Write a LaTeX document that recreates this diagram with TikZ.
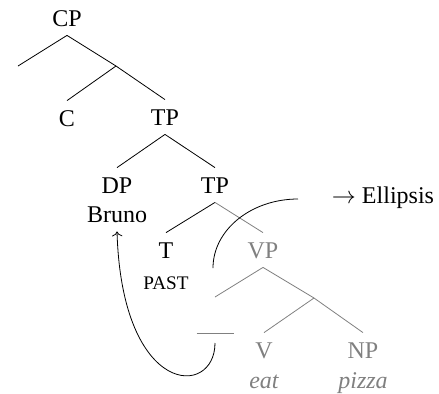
\documentclass[tikz,border=0pt]{standalone}
\usepackage{fontspec}
\setmainfont{Liberation Serif}
\newfontfamily\treefont{Liberation Serif}
\usetikzlibrary{arrows.meta}

\begin{document}
\begin{tikzpicture}[x=0.5pt, y=-0.5pt,
    every node/.style={font=\treefont\fontsize{12}{14}\selectfont},
    lbl/.style={text height=8pt, text depth=0pt, inner xsep=1pt, inner ysep=4.5pt},
    elided/.style={gray}]
  % canvas 439 x 393, one unit = one pixel
  \useasboundingbox (0,0) rectangle (439,393);

  % -- labels of the tree --
  \node[lbl] (CP)  at (67,18)   {CP};
  \node[lbl] (C)   at (67,118)  {C};
  \node[lbl] (TP)  at (165,117) {TP};
  \node[lbl] (DP)  at (117,185) {DP};
  \node[lbl] (TPb) at (215,185) {TP};
  \node[lbl] (T)   at (166,250) {T};
  \node[lbl, elided] (VP) at (263,250) {VP};
  \node[lbl, elided] (V)  at (264,350) {V};
  \node[lbl, elided] (NP) at (363,350) {NP};

  % words under the labels
  \node[lbl] (bruno) at (117,214) {Bruno};
  \node[lbl, font=\treefont\fontsize{9.6}{11}\selectfont] (past) at (166,281) {PAST};
  \node[lbl, elided, font=\treefont\fontsize{12}{14}\selectfont\itshape] (eat)   at (264,380) {eat};
  \node[lbl, elided, font=\treefont\fontsize{12}{14}\selectfont\itshape] (pizza) at (363,380) {pizza};

  % gap left by the moved subject
  \node[inner sep=0pt] (trace) at (215,333) {\textcolor{gray}{\rule{18.5pt}{0.5pt}}};

  % empty branch points
  \coordinate (specC) at (18,66);
  \coordinate (Cbar)  at (116,66);
  \coordinate (specV) at (215,297);
  \coordinate (Vbar)  at (314,298);

  % -- branches --
  \draw (CP.south) -- (specC);
  \draw (CP.south) -- (Cbar);
  \draw (Cbar) -- (C.north);
  \draw (Cbar) -- (TP.north);
  \draw (TP.south) -- (DP.north);
  \draw (TP.south) -- (TPb.north);
  \draw (TPb.south) -- (T.north);
  \draw[elided] (TPb.south) -- (VP.north);
  \draw[elided] (VP.south) -- (specV);
  \draw[elided] (VP.south) -- (Vbar);
  \draw[elided] (Vbar) -- (V.north);
  \draw[elided] (Vbar) -- (NP.north);

  % -- movement of the subject --
  \draw[->] (215,343) .. controls (215,398) and (122,398) .. (bruno.south);

  % -- ellipsis of VP --
  \coordinate (ellA) at (213,268);
  \coordinate (ellB) at (298,199);
  \draw (ellA) .. controls (213,230) and (251,199) .. (ellB);
  \node (ell) at (383,198) {$\rightarrow$ Ellipsis};
\end{tikzpicture}
\end{document}
